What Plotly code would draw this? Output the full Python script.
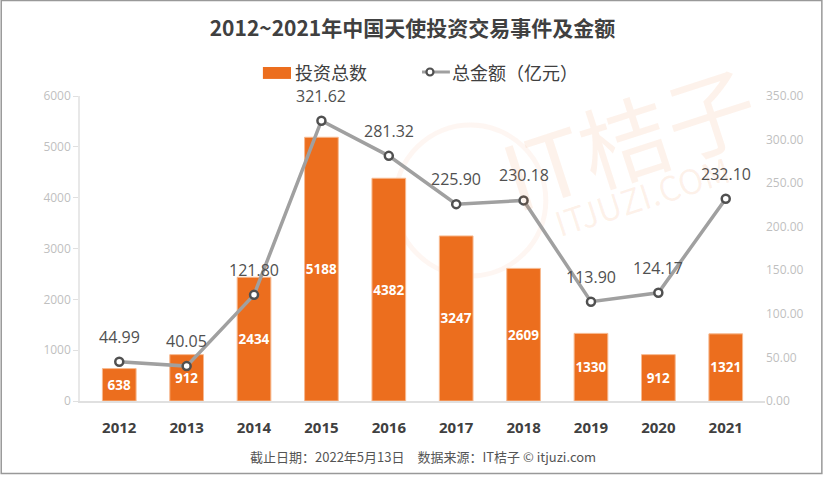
import plotly.graph_objects as go

years = ["2012", "2013", "2014", "2015", "2016", "2017", "2018", "2019", "2020", "2021"]
deal_counts = [638, 912, 2434, 5188, 4382, 3247, 2609, 1330, 912, 1321]
amounts = [44.99, 40.05, 121.80, 321.62, 281.32, 225.90, 230.18, 113.90, 124.17, 232.10]
left_ticks = [0, 1000, 2000, 3000, 4000, 5000, 6000]
right_ticks = [0, 50, 100, 150, 200, 250, 300, 350]
series_names = ["投资总数", "总金额（亿元）"]

FONT = "Noto Sans CJK SC"
NUM_FONT = "Open Sans, Noto Sans CJK SC"
ORANGE = "#EC6E1E"

fig = go.Figure()
fig.add_trace(go.Bar(
    x=years, y=deal_counts, name=series_names[0], showlegend=False,
    marker=dict(color=ORANGE, line=dict(color="#F7B98F", width=1)),
    text=[str(v) for v in deal_counts], textposition="inside",
    insidetextanchor="middle", textangle=0, constraintext="none",
    textfont=dict(color="white", size=13.5, family=NUM_FONT, weight="bold"),
    width=0.5,
))
fig.add_trace(go.Scatter(
    x=years, y=amounts, name=series_names[1], yaxis="y2", showlegend=False,
    mode="lines+markers",
    line=dict(color="#A0A0A0", width=3.5),
    marker=dict(symbol="circle", size=8, color="white", line=dict(color="#505050", width=2.5)),
))

annotations = [
    dict(x=i, y=v, xref="x", yref="y2", text=f"{v:.2f}", showarrow=False,
         yshift=25, font=dict(color="#505050", size=16, family=NUM_FONT))
    for i, v in enumerate(amounts)
]
LEG_Y = 1.0787
annotations += [
    dict(text=series_names[0], xref="paper", yref="paper", x=0.311, y=LEG_Y,
         xanchor="left", yanchor="middle", showarrow=False,
         font=dict(size=18, color="#404040", family=FONT)),
    dict(text=series_names[1], xref="paper", yref="paper", x=0.540, y=LEG_Y,
         xanchor="left", yanchor="middle", showarrow=False,
         font=dict(size=18, color="#404040", family=FONT)),
    dict(text="截止日期：2022年5月13日　数据来源：IT桔子 © itjuzi.com", xref="paper", yref="paper",
         x=0.5, y=-0.183, xanchor="center", yanchor="middle", showarrow=False,
         font=dict(size=13, color="#555555", family=FONT)),
    dict(text="IT桔子", xref="paper", yref="paper", x=0.80, y=0.87, xanchor="center", yanchor="middle",
         showarrow=False, textangle=-18, font=dict(size=90, color="rgba(236,110,30,0.09)", family=FONT)),
    dict(text="ITJUZI.COM", xref="paper", yref="paper", x=0.82, y=0.675, xanchor="center", yanchor="middle",
         showarrow=False, textangle=-18, font=dict(size=34, color="rgba(236,110,30,0.09)", family=FONT)),
]

shapes = [
    dict(type="rect", xref="paper", yref="paper", x0=-0.115, x1=1.083, y0=-0.238, y1=1.313,
         line=dict(color="#999999", width=1.5), fillcolor="rgba(0,0,0,0)", layer="below"),
    dict(type="circle", xref="paper", yref="paper", x0=0.46, x1=0.68, y0=0.41, y1=0.905,
         line=dict(color="rgba(236,110,30,0.06)", width=5), fillcolor="rgba(0,0,0,0)", layer="below"),
    # custom legend symbols
    dict(type="rect", xref="paper", yref="paper", x0=0.267, x1=0.308, y0=1.056, y1=1.095,
         line=dict(width=0), fillcolor=ORANGE),
    dict(type="line", xref="paper", yref="paper", x0=0.4993, x1=0.540, y0=LEG_Y, y1=LEG_Y,
         line=dict(color="#A0A0A0", width=3)),
    dict(type="circle", xref="paper", yref="paper", xsizemode="pixel", ysizemode="pixel",
         xanchor=0.5109, yanchor=LEG_Y, x0=-3.5, x1=3.5, y0=-3.5, y1=3.5,
         line=dict(color="#505050", width=2.2), fillcolor="white"),
]

fig.update_layout(
    width=825, height=481,
    margin=dict(l=80, r=60, t=96, b=80),
    paper_bgcolor="white", plot_bgcolor="white",
    font=dict(family=FONT, color="#404040"),
    title=dict(text="<b>2012~2021年中国天使投资交易事件及金额</b>", x=0.5, xanchor="center",
               y=0.94, yanchor="middle", font=dict(size=21, color="#404040", family=FONT)),
    showlegend=False,
    xaxis=dict(type="category", showline=True, linecolor="#E0E0E0", linewidth=1.5, ticks="",
               ticklabelstandoff=12,
               tickfont=dict(size=15, color="#404040", family=NUM_FONT, weight="bold")),
    yaxis=dict(range=[0, 6000], tickvals=left_ticks, showgrid=False, zeroline=False,
               showline=True, linecolor="#E8E8E8", linewidth=1.5,
               ticks="outside", tickcolor="#E0E0E0", ticklen=5,
               tickfont=dict(size=12, color="#BFBFBF", family=NUM_FONT)),
    yaxis2=dict(range=[0, 350], tickvals=right_ticks, overlaying="y", side="right",
                showgrid=False, zeroline=False, showline=False,
                tickformat=".2f",
                tickfont=dict(size=12, color="#BFBFBF", family=NUM_FONT)),
    annotations=annotations,
    shapes=shapes,
)

fig.write_html("out.html")
